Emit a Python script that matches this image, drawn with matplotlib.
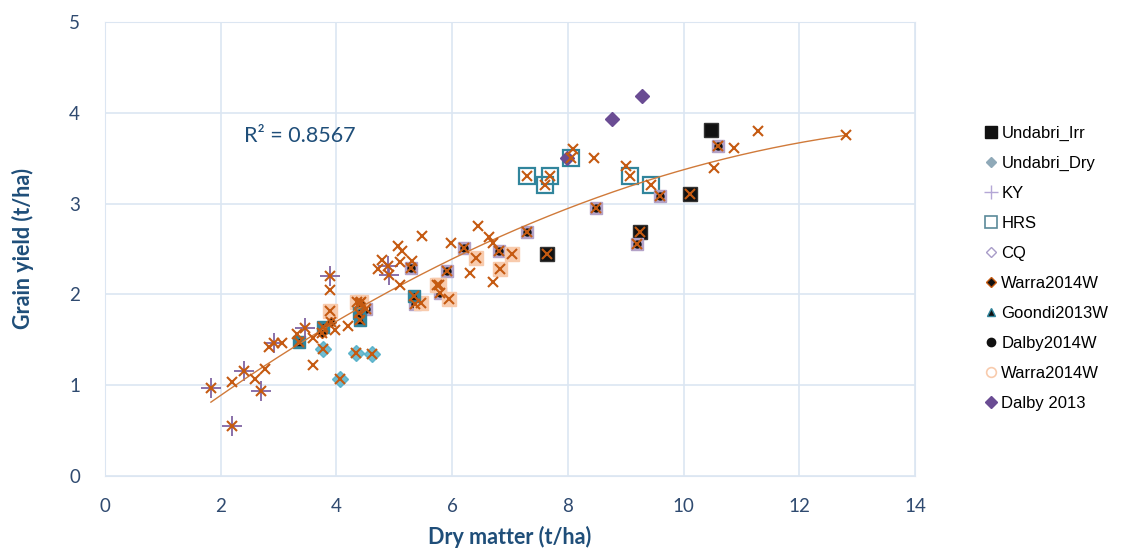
import numpy as np
import matplotlib
matplotlib.use("Agg")
import matplotlib.pyplot as plt
from matplotlib.lines import Line2D

# series (dry matter t/ha, grain yield t/ha)
irr_x = [10.48, 10.12, 9.24, 7.64]
irr_y = [3.81, 3.11, 2.69, 2.44]
dry_x = [4.06, 4.33, 4.61, 3.77]
dry_y = [1.07, 1.36, 1.34, 1.40]
ky_x = [1.83, 2.19, 2.41, 2.70, 2.92, 3.45, 3.88, 4.89, 4.90]
ky_y = [0.97, 0.55, 1.16, 0.94, 1.46, 1.63, 2.20, 2.31, 2.21]
hrs_x = [7.30, 7.69, 7.61, 8.05, 9.07, 9.43]
hrs_y = [3.30, 3.30, 3.20, 3.50, 3.30, 3.20]
cq_x = [10.60, 9.60, 9.20, 8.49, 7.30, 6.81, 6.21, 5.91, 5.79, 5.29, 5.36, 4.51]
cq_y = [3.63, 3.08, 2.56, 2.95, 2.69, 2.48, 2.51, 2.26, 2.02, 2.29, 1.89, 1.84]
warra_x = [3.75, 3.90, 4.41]
warra_y = [1.57, 1.70, 1.91]
goondi_x = [3.35, 3.77, 4.40, 4.39, 5.34]
goondi_y = [1.48, 1.64, 1.72, 1.80, 1.98]
dalby14_x = cq_x
dalby14_y = cq_y
warra2_x = [6.41, 7.04, 6.82, 5.95, 5.74, 5.78, 5.46, 3.88, 4.36, 4.43]
warra2_y = [2.40, 2.44, 2.28, 1.95, 2.10, 2.10, 1.91, 1.82, 1.92, 1.92]
dalby13_x = [7.99, 8.76, 9.29]
dalby13_y = [3.50, 3.93, 4.18]
other_x = [2.19, 2.60, 2.76, 2.84, 3.06, 3.31, 3.60, 3.60, 3.88, 3.98, 4.20,
           5.09, 4.71, 4.79, 5.07, 5.13, 5.10, 5.48, 5.30, 5.98, 6.31, 6.45,
           6.64, 6.70, 6.70, 8.09, 8.45, 9.01, 11.28, 10.88, 10.53, 12.81]
other_y = [1.03, 1.07, 1.18, 1.42, 1.46, 1.56, 1.52, 1.22, 2.05, 1.61, 1.65,
           2.10, 2.28, 2.38, 2.53, 2.48, 2.36, 2.64, 2.37, 2.57, 2.24, 2.75,
           2.63, 2.57, 2.14, 3.60, 3.50, 3.41, 3.80, 3.61, 3.39, 3.75]

# all pooled points (the orange crosses) - everything but Dalby 2013 and one Irr point
all_x = np.array(irr_x[1:] + dry_x + ky_x + hrs_x + cq_x + warra_x + goondi_x + warra2_x + other_x)
all_y = np.array(irr_y[1:] + dry_y + ky_y + hrs_y + cq_y + warra_y + goondi_y + warra2_y + other_y)

blue = "#1F4E79"
grid_c = "#DCE6F2"

fig = plt.figure(figsize=(11.21, 5.54), dpi=100)
ax = fig.add_axes([0.0937, 0.1408, 0.7225, 0.8195])

ax.plot(irr_x, irr_y, "s", ms=10, color="#111111", mec="#333333", ls="none", zorder=3)
ax.plot(dry_x, dry_y, "D", ms=8, color="#4BACC6", alpha=0.8, ls="none", zorder=3)
ax.plot(hrs_x, hrs_y, "s", ms=11, mfc="none", mec="#31859C", mew=1.6, ls="none", zorder=3)
ax.plot(cq_x, cq_y, "s", ms=9, color="#B3A2C7", ls="none", zorder=3)
ax.plot(dalby14_x, dalby14_y, "o", ms=5, color="#111111", ls="none", zorder=3)
ax.plot(warra2_x, warra2_y, "s", ms=10, color="#F8CBAD", ls="none", zorder=3)
ax.plot(goondi_x, goondi_y, "s", ms=8, color="#31859C", ls="none", zorder=3)
ax.plot(goondi_x, goondi_y, "^", ms=5, color="#111111", ls="none", zorder=3.1)
ax.plot(warra_x, warra_y, "D", ms=5, color="#111111", mec="#C55A11", ls="none", zorder=3.1)
ax.plot(dalby13_x, dalby13_y, "D", ms=7, color="#6A4C93", ls="none", zorder=3)
ax.plot(ky_x, ky_y, "+", ms=15, mew=1.3, color="#8064A2", ls="none", zorder=4)
ax.plot(all_x, all_y, "x", ms=7, mew=1.5, color="#C55A11", ls="none", zorder=5)

# 2nd order polynomial trendline fitted to the pooled data
coef = np.polyfit(all_x, all_y, 2)
xs = np.linspace(all_x.min(), all_x.max(), 200)
ax.plot(xs, np.polyval(coef, xs), color="#D07A3A", lw=1, zorder=4.5)

ax.text(2.4, 3.74, "R² = 0.8567", fontsize=15.5, color=blue, va="center", family="Lato")

ax.set_xlim(0, 14)
ax.set_ylim(0, 5)
ax.set_xticks(range(0, 15, 2))
ax.set_yticks(range(0, 6))
ax.grid(True, color=grid_c, lw=1.2)
ax.set_axisbelow(True)
for s in ax.spines.values():
    s.set_color(grid_c)
ax.tick_params(length=0, labelsize=13.5, colors="#2F4A70")
ax.tick_params(axis="x", pad=16)
ax.tick_params(axis="y", pad=18)
for lab in ax.get_xticklabels() + ax.get_yticklabels():
    lab.set_family("Lato")
ax.set_xlabel("Dry matter (t/ha)", fontsize=15.5, fontweight="bold", color=blue, family="Lato", labelpad=8)
ax.set_ylabel("Grain yield (t/ha)", fontsize=15.5, fontweight="bold", color=blue, family="Lato", labelpad=25)

handles = [
    Line2D([], [], ls="none", marker="s", ms=8, color="#111111"),
    Line2D([], [], ls="none", marker="D", ms=5, color="#8FA9B8"),
    Line2D([], [], ls="none", marker="+", ms=10, mew=1, color="#B4A7D6"),
    Line2D([], [], ls="none", marker="s", ms=8, mfc="none", mec="#5B8A9A", mew=1.2),
    Line2D([], [], ls="none", marker="D", ms=5, mfc="none", mec="#A89CC8", mew=1),
    Line2D([], [], ls="none", marker="D", ms=5, color="#111111", mec="#C55A11"),
    Line2D([], [], ls="none", marker="^", ms=6, color="#111111", mec="#31859C"),
    Line2D([], [], ls="none", marker="o", ms=6, color="#111111"),
    Line2D([], [], ls="none", marker="o", ms=7, mfc="none", mec="#F8CBAD", mew=1.2),
    Line2D([], [], ls="none", marker="D", ms=6, color="#6A4C93"),
]
labels = ["Undabri_Irr", "Undabri_Dry", "KY", "HRS", "CQ", "Warra2014W",
          "Goondi2013W", "Dalby2014W", "Warra2014W", "Dalby 2013"]
fig.legend(handles, labels, loc="upper left", bbox_to_anchor=(0.865, 0.8),
           frameon=False, labelspacing=0.9, handlelength=0.8,
           handletextpad=0.2, prop={"family": "Liberation Sans", "size": 12})

fig.savefig("out.png", dpi=100)
